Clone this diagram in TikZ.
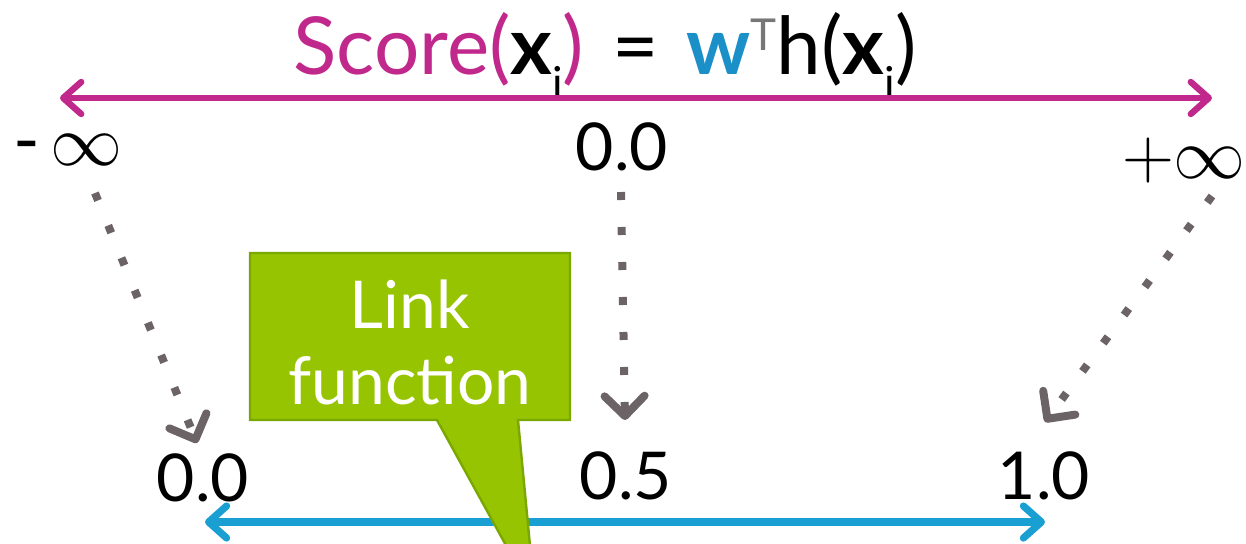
\RequirePackage{fix-cm}
\documentclass[tikz,border=0pt]{standalone}
\usepackage{fontspec}
\setmainfont{Lato}
\usetikzlibrary{arrows.meta}
\definecolor{mag}{HTML}{C0288C}
\definecolor{wblue}{HTML}{1A8FC8}
\definecolor{lblue}{HTML}{1A9FD2}
\definecolor{lgreen}{HTML}{96C400}
\definecolor{dgreen}{HTML}{7AA800}
\definecolor{dgray}{HTML}{6B6365}
\definecolor{tgray}{HTML}{777777}
\tikzset{
  lbl/.style={font=\fontsize{33}{36}\selectfont, inner sep=0pt},
  inflbl/.style={font=\fontsize{36}{40}\selectfont, inner sep=0pt},
  bigarrow/.style={line width=3.2pt, line cap=round,
     arrows={Straight Barb[length=9pt,width=16pt,line cap=round,line join=round]-Straight Barb[length=9pt,width=16pt,line cap=round,line join=round]}},
  dotarrow/.style={dgray, line width=4pt, dash pattern=on 4pt off 13.5pt,
     -{Straight Barb[length=10pt,width=20pt,line cap=round,line join=round]}},
  callout/.style={fill=lgreen, draw=dgreen, line width=1.2pt},
}
\newcommand{\subi}{\raisebox{-0.3em}{\fontsize{22}{24}\selectfont i}}
\begin{document}
\begin{tikzpicture}[x=0.5pt,y=-0.5pt]
\useasboundingbox (0,0) rectangle (1246,543);
\clip (0,0) rectangle (1246,543);

% title
\node[inner sep=0pt, font=\fontsize{40}{44}\selectfont] (title) at (605,55)
  {\textcolor{mag}{Score(}\textbf{x}\subi\textcolor{mag}{)}\hspace{0.35em}=\hspace{0.35em}\textcolor{wblue}{\textbf{w}}\raisebox{0.3em}{\textcolor{tgray}{\fontsize{22}{24}\selectfont T}}h(\textbf{x}\subi)};

% top arrow
\coordinate (tl) at (60,98);
\coordinate (tr) at (1212,98);
\draw[bigarrow, mag] (tl) -- (tr);

% top labels
\node[inflbl] (ninf) at (68,150) {-\hspace{0.15em}$\infty$};
\node[lbl] (zero) at (622,147) {0.0};
\node[inflbl] (pinf) at (1184,160) {$+\infty$};

% bottom labels
\node[lbl] (b0) at (203,478) {0.0};
\node[lbl] (b5) at (626,476) {0.5};
\node[lbl] (b1) at (1044,476) {1.0};

% bottom arrow
\coordinate (bl) at (205,522);
\coordinate (br) at (1045,522);
\draw[bigarrow, lblue, line width=3.6pt] (bl) -- (br);

% dotted arrows
\coordinate (s1) at (95,193);
\coordinate (e1) at (197,443);
\coordinate (s2) at (621,192);
\coordinate (e2) at (625,420);
\coordinate (s3) at (1212,196);
\coordinate (e3) at (1045,422);
\draw[dotarrow] (s1) -- (e1);
\draw[dotarrow] (s2) -- (e2);
\draw[dotarrow] (s3) -- (e3);

% callout
\draw[callout] (250,253) -- (570,253) -- (570,420) -- (518,420) -- (535,598) -- (437,420) -- (250,420) -- cycle;
\node[inner sep=0pt, align=center, text=white, font=\fontsize{33}{38}\selectfont] (link) at (410,342) {Link\\function};
\end{tikzpicture}
\end{document}
